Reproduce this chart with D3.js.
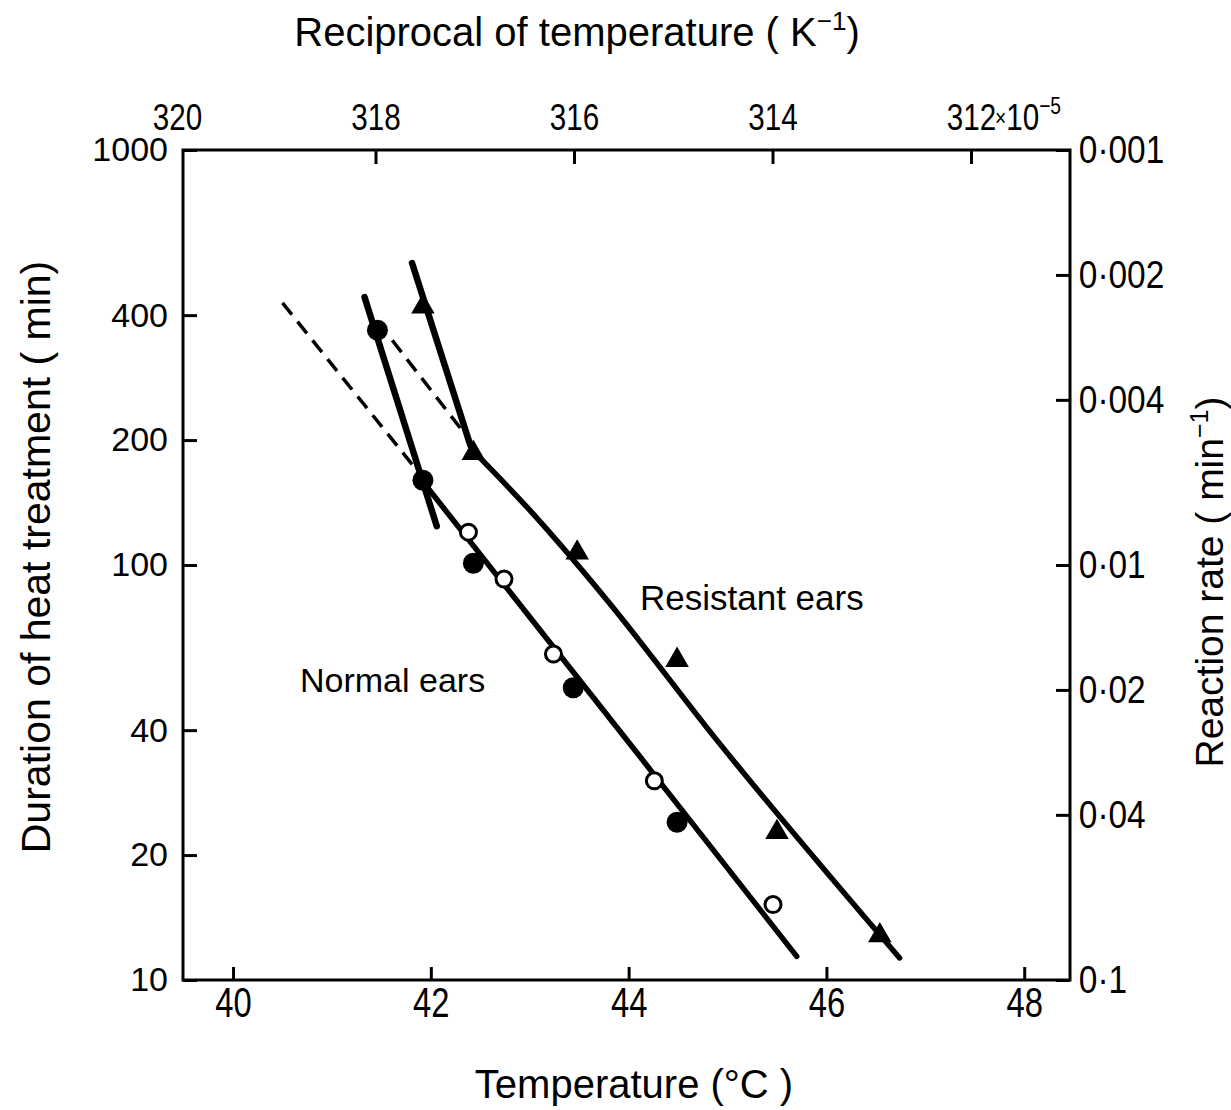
<!DOCTYPE html>
<html>
<head>
<meta charset="utf-8">
<script src="https://cdn.jsdelivr.net/npm/d3@7"></script>
<style>
  body { margin: 0; background: #fff; }
  text { font-family: "Liberation Sans", Arial, sans-serif; fill: #000; }
</style>
</head>
<body>
<div id="chart"></div>
<script>
// points: temperature (°C) and duration (min)
const normalFilledT = [41.46, 41.92, 42.43, 43.44, 44.49];
const normalFilledMin = [368, 160, 101, 50.6, 24.0];
const normalOpenT = [42.38, 42.74, 43.24, 44.26, 45.46];
const normalOpenMin = [120, 92.5, 61, 30.2, 15.2];
const resistantT = [41.92, 42.43, 43.48, 44.49, 45.50, 46.54];
const resistantMin = [419, 186, 107, 59, 22.7, 12.8];

// fitted lines as drawn in the figure
const normalSteepT = [41.33, 42.06];
const normalSteepMin = [442, 124];
const normalMainT = [41.89, 44.12, 45.70];
const normalMainMin = [162, 34.4, 11.4];
const resistantSteepT = [41.81, 42.40];
const resistantSteepMin = [534, 194];
const resistantMainT = [42.45, 43.00, 43.78, 44.89, 46.74];
const resistantMainMin = [186, 135.6, 82.4, 37.9, 11.3];
const dashedAT = [40.50, 41.86];
const dashedAMin = [428, 169];
const dashedBT = [41.61, 42.33];
const dashedBMin = [348, 209];

const tempTicks = [40, 42, 44, 46, 48];
const durationTicks = [1000, 400, 200, 100, 40, 20, 10];
const rateTicks = [0.001, 0.002, 0.004, 0.01, 0.02, 0.04, 0.1];
const recipTicks = [320, 318, 316, 314, 312];

const width = 1231, height = 1110;
const m = {left: 183, right: 1070, top: 150, bottom: 980};

const svg = d3.select("#chart").append("svg")
    .attr("width", width)
    .attr("height", height);

svg.append("rect").attr("width", width).attr("height", height).attr("fill", "#fff");

const x = d3.scaleLinear().domain([39.494, 48.463]).range([m.left, m.right]);
const y = d3.scaleLog().domain([10, 1000]).range([m.bottom, m.top]);
const yRate = d3.scaleLog().domain([0.1, 0.001]).range([m.bottom, m.top]);
const xRecip = d3.scaleLinear().domain([320, 312]).range([177, 971]);

const zip = (ts, ms) => ts.map((t, i) => ({t: t, m: ms[i]}));

// frame
svg.append("rect")
    .attr("x", m.left).attr("y", m.top)
    .attr("width", m.right - m.left).attr("height", m.bottom - m.top)
    .attr("fill", "none").attr("stroke", "#000").attr("stroke-width", 3);

// axes (ticks point inwards)
const axisBottom = svg.append("g")
    .attr("transform", `translate(0,${m.bottom})`)
    .call(d3.axisBottom(x).tickValues(tempTicks).tickSize(-13).tickPadding(7).tickFormat(d3.format("d")));

const axisLeft = svg.append("g")
    .attr("transform", `translate(${m.left},0)`)
    .call(d3.axisLeft(y).tickValues(durationTicks).tickSize(-14).tickPadding(15).tickFormat(d3.format("d")));

const axisRight = svg.append("g")
    .attr("transform", `translate(${m.right},0)`)
    .call(d3.axisRight(yRate).tickValues(rateTicks).tickSize(-14).tickPadding(10)
        .tickFormat(d => String(d).replace(".", "\u00B7")));

const axisTop = svg.append("g")
    .attr("transform", `translate(0,${m.top})`)
    .call(d3.axisTop(xRecip).tickValues(recipTicks).tickSize(-14).tickPadding(20).tickFormat(d3.format("d")));

axisTop.selectAll(".tick line").filter(d => d === 320).remove();

[axisBottom, axisLeft, axisRight, axisTop].forEach(g => {
    g.select(".domain").remove();
    g.selectAll(".tick line").attr("stroke", "#000").attr("stroke-width", 3);
    g.selectAll(".tick text").attr("fill", "#000");
});
// the printed digits are tall and narrow
axisBottom.selectAll(".tick text").attr("font-size", 42).attr("transform", "scale(0.78,1)");
axisTop.selectAll(".tick text").attr("font-size", 37).attr("transform", "scale(0.8,1)");
axisLeft.selectAll(".tick text").attr("font-size", 34);
axisRight.selectAll(".tick text").attr("font-size", 38).attr("transform", "scale(0.88,1)");

// ×10^-5 after the 312 label
const sci = svg.append("text")
    .attr("transform", `translate(${xRecip(312) + 24},${m.top - 20}) scale(0.8,1)`)
    .attr("font-size", 37);
sci.append("tspan").attr("font-size", 24).attr("dy", -4).text("\u00D7");
sci.append("tspan").attr("dy", 4).text("10");
sci.append("tspan").attr("font-size", 24).attr("dy", -16).text("\u22125");

// axis titles
const topTitle = svg.append("text")
    .attr("x", 577).attr("y", 46)
    .attr("text-anchor", "middle")
    .attr("font-size", 40);
topTitle.append("tspan").text("Reciprocal of temperature ( K");
topTitle.append("tspan").attr("font-size", 26).attr("dy", -16).text("\u22121");
topTitle.append("tspan").attr("dy", 16).text(")");

svg.append("text")
    .attr("x", 634).attr("y", 1098)
    .attr("text-anchor", "middle")
    .attr("font-size", 40)
    .text("Temperature (\u00B0C )");

svg.append("text")
    .attr("transform", "translate(36,557) rotate(-90)")
    .attr("text-anchor", "middle")
    .attr("dominant-baseline", "central")
    .attr("font-size", 41)
    .text("Duration of heat treatment ( min)");

const rightTitle = svg.append("text")
    .attr("transform", "translate(1223,582) rotate(-90)")
    .attr("text-anchor", "middle")
    .attr("font-size", 39);
rightTitle.append("tspan").text("Reaction rate ( min");
rightTitle.append("tspan").attr("font-size", 25).attr("dy", -15).text("\u22121");
rightTitle.append("tspan").attr("dy", 15).text(")");

// lines
const line = d3.line().x(d => x(d.t)).y(d => y(d.m));
const curve = d3.line().x(d => x(d.t)).y(d => y(d.m)).curve(d3.curveMonotoneX);

const plot = svg.append("g");

plot.append("path").datum(zip(dashedAT, dashedAMin))
    .attr("d", line).attr("fill", "none").attr("stroke", "#000")
    .attr("stroke-width", 3.5).attr("stroke-dasharray", "15,9");
plot.append("path").datum(zip(dashedBT, dashedBMin))
    .attr("d", line).attr("fill", "none").attr("stroke", "#000")
    .attr("stroke-width", 3.5).attr("stroke-dasharray", "15,9");

[[normalSteepT, normalSteepMin, 6.5], [normalMainT, normalMainMin, 5.5],
 [resistantSteepT, resistantSteepMin, 6.5]].forEach(([ts, ms, w]) => {
    plot.append("path").datum(zip(ts, ms))
        .attr("d", line).attr("fill", "none").attr("stroke", "#000")
        .attr("stroke-width", w).attr("stroke-linecap", "round");
});

plot.append("path").datum(zip(resistantMainT, resistantMainMin))
    .attr("d", curve).attr("fill", "none").attr("stroke", "#000")
    .attr("stroke-width", 5.5).attr("stroke-linecap", "round");

// markers
plot.selectAll(".filled").data(zip(normalFilledT, normalFilledMin))
    .enter().append("circle")
    .attr("class", "filled")
    .attr("cx", d => x(d.t)).attr("cy", d => y(d.m))
    .attr("r", 10.5).attr("fill", "#000");

plot.selectAll(".open").data(zip(normalOpenT, normalOpenMin))
    .enter().append("circle")
    .attr("class", "open")
    .attr("cx", d => x(d.t)).attr("cy", d => y(d.m))
    .attr("r", 8).attr("fill", "#fff").attr("stroke", "#000").attr("stroke-width", 3);

const tri = d3.symbol().type(d3.symbolTriangle).size(240);
plot.selectAll(".tri").data(zip(resistantT, resistantMin))
    .enter().append("path")
    .attr("class", "tri")
    .attr("transform", d => `translate(${x(d.t)},${y(d.m)})`)
    .attr("d", tri).attr("fill", "#000");

// series labels
svg.append("text")
    .attr("x", 640).attr("y", 610)
    .attr("font-size", 35)
    .text("Resistant ears");

svg.append("text")
    .attr("x", 300).attr("y", 692)
    .attr("font-size", 34)
    .text("Normal ears");
</script>
</body>
</html>
